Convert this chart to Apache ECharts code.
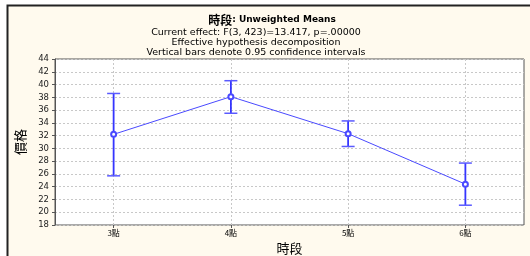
<!DOCTYPE html>
<html>
<head>
<meta charset="utf-8">
<script src="https://cdn.jsdelivr.net/npm/echarts@6/dist/echarts.min.js"></script>
<style>
  html, body { margin: 0; padding: 0; background: #fff; }
  #main { width: 530px; height: 256px; }
</style>
</head>
<body>
<div id="main"></div>
<script>
// 時段 categories and unweighted means with 0.95 CI
const categories = ['3點', '4點', '5點', '6點'];
const means = [32.2, 38.1, 32.3, 24.4];
const lowerCI = [25.7, 35.5, 30.3, 21.1];
const upperCI = [38.6, 40.6, 34.3, 27.7];

const chart = echarts.init(document.getElementById('main'));
const latin = '"DejaVu Sans", Arial, sans-serif';
const cjk = '"Noto Sans CJK TC", "Noto Sans CJK SC", sans-serif';
const blue = '#3535ff';

const option = {
  animation: false,
  backgroundColor: '#fff',
  graphic: [
    {
      type: 'rect',
      shape: { x: 7.5, y: 5.5, width: 530, height: 260 },
      style: { fill: '#fffaee', stroke: '#222', lineWidth: 2 },
      silent: true,
      z: -10
    }
  ],
  title: [
    {
      left: 267,
      top: 9,
      textAlign: 'center',
      text: '{c|時段}{b|: Unweighted Means}',
      textStyle: {
        rich: {
          c: { fontFamily: cjk, fontSize: 12, color: '#000' },
          b: { fontFamily: latin, fontSize: 9, color: '#000', fontWeight: 'bold' }
        }
      }
    },
    {
      left: 251,
      top: 23,
      textAlign: 'center',
      text: 'Current effect: F(3, 423)=13.417, p=.00000\nEffective hypothesis decomposition\nVertical bars denote 0.95 confidence intervals',
      textStyle: { fontFamily: latin, fontSize: 9.5, fontWeight: 'normal', color: '#000', lineHeight: 10 }
    }
  ],
  grid: {
    left: 55, top: 59, width: 469, height: 166,
    outerBoundsMode: 'none', containLabel: false,
    show: true, backgroundColor: '#fff', borderColor: '#555', borderWidth: 1
  },
  xAxis: {
    type: 'category',
    data: categories,
    boundaryGap: true,
    name: '時段',
    nameLocation: 'middle',
    nameGap: 16,
    nameTextStyle: { fontFamily: cjk, fontSize: 13, color: '#000' },
    axisLine: { show: false },
    axisTick: { show: true, alignWithLabel: true, length: 3, lineStyle: { color: '#555' } },
    axisLabel: { fontFamily: cjk, fontSize: 8, color: '#000', margin: 4, interval: 0 },
    splitLine: { show: true, alignWithLabel: true, interval: 0, lineStyle: { color: '#c8c8c8', type: [2, 2] } }
  },
  yAxis: {
    type: 'value',
    min: 18,
    max: 44,
    interval: 2,
    name: '價格',
    nameLocation: 'middle',
    nameRotate: 90,
    nameGap: 28,
    nameTextStyle: { fontFamily: cjk, fontSize: 13, color: '#000' },
    axisLine: { show: true, lineStyle: { color: '#555' } },
    axisTick: { show: true, length: 3, lineStyle: { color: '#555' } },
    axisLabel: { fontFamily: latin, fontSize: 8.5, color: '#222', margin: 6 },
    splitLine: { show: true, lineStyle: { color: '#c8c8c8', type: [2, 2] } }
  },
  series: [
    {
      type: 'custom',
      name: 'CI',
      z: 3,
      data: categories.map((c, i) => [i, lowerCI[i], upperCI[i]]),
      renderItem: function (params, api) {
        const x = api.value(0);
        const lo = api.coord([x, api.value(1)]);
        const hi = api.coord([x, api.value(2)]);
        const half = 6.5;
        const capStyle = { stroke: '#5a5aff', lineWidth: 1.5 };
        return {
          type: 'group',
          children: [
            { type: 'line', shape: { x1: lo[0], y1: lo[1], x2: hi[0], y2: hi[1] }, style: { stroke: blue, lineWidth: 1.8 } },
            { type: 'line', shape: { x1: hi[0] - half, y1: hi[1], x2: hi[0] + half, y2: hi[1] }, style: capStyle },
            { type: 'line', shape: { x1: lo[0] - half, y1: lo[1], x2: lo[0] + half, y2: lo[1] }, style: capStyle }
          ]
        };
      }
    },
    {
      type: 'line',
      name: 'Means',
      z: 4,
      data: means,
      symbol: 'emptyCircle',
      symbolSize: 5,
      lineStyle: { color: '#4a4aff', width: 1 },
      itemStyle: { color: '#4a4aff', borderWidth: 1 }
    }
  ]
};

chart.setOption(option);
</script>
</body>
</html>
